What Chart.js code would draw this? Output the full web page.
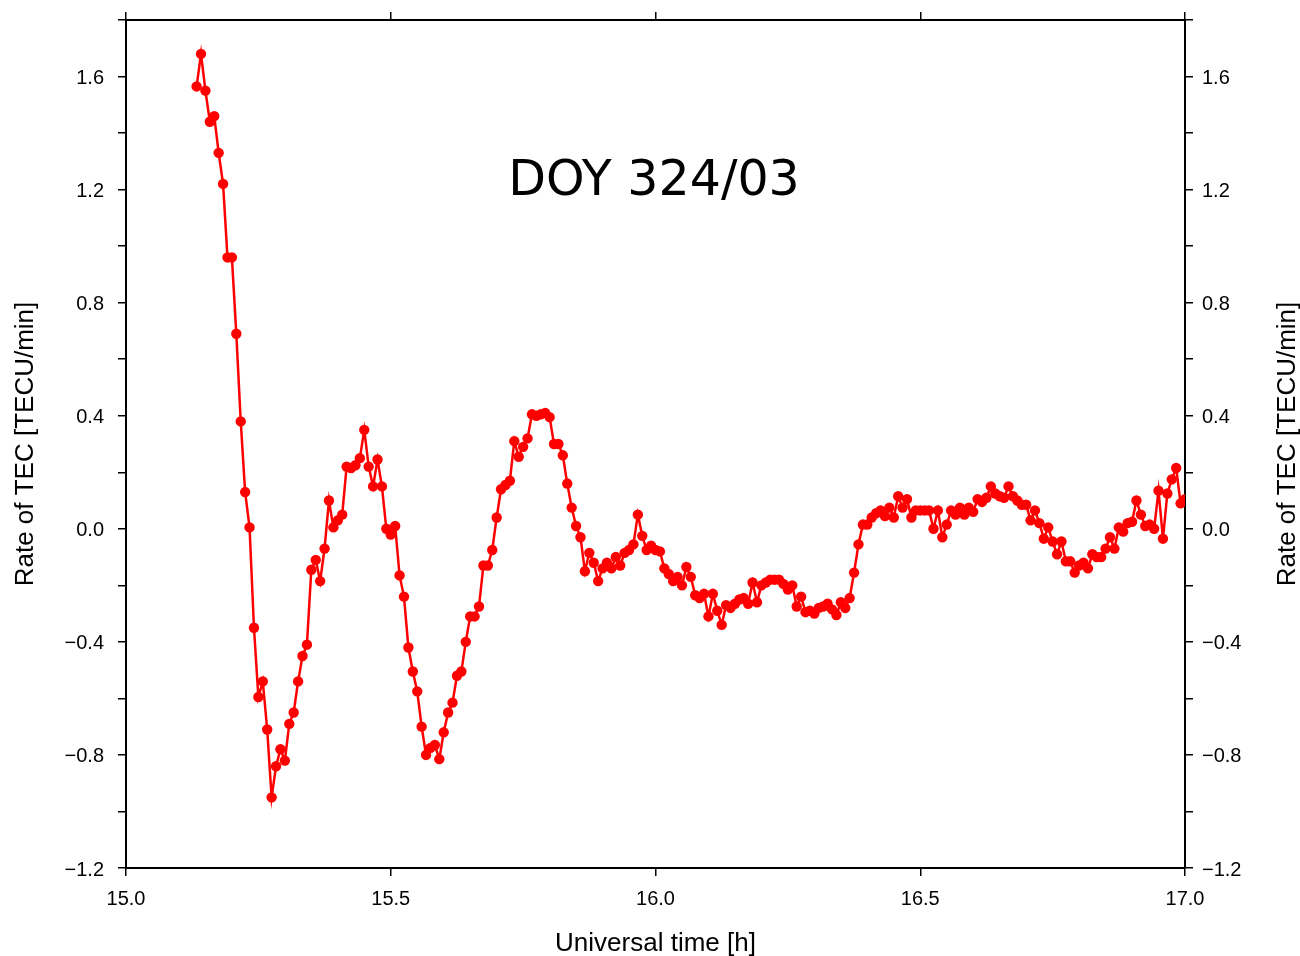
<!DOCTYPE html>
<html>
<head>
<meta charset="utf-8">
<script src="https://cdn.jsdelivr.net/npm/chart.js@4.4.1/dist/chart.umd.min.js"></script>
<style>
  html, body { margin: 0; padding: 0; background: #fff; }
  #wrap { width: 1300px; height: 956px; position: relative; }
</style>
</head>
<body>
<div id="wrap"><canvas id="chart" width="1300" height="956"></canvas></div>
<script>
// sampling: 30 s cadence starting 15:08 UT
const startHour = 15 + 8 / 60;
const stepHour = 30 / 3600;

// rate of TEC [TECU/min]
const rot = [
    1.565, 1.68, 1.55, 1.44, 1.46, 1.33, 1.22, 0.96, 0.96, 0.69,
    0.38, 0.13, 0.005, -0.35, -0.595, -0.54, -0.71, -0.95, -0.84, -0.78,
    -0.82, -0.69, -0.65, -0.54, -0.45, -0.41, -0.145, -0.11, -0.185, -0.07,
    0.10, 0.005, 0.03, 0.05, 0.22, 0.215, 0.225, 0.25, 0.35, 0.22,
    0.15, 0.245, 0.15, 0.0, -0.02, 0.01, -0.165, -0.24, -0.42, -0.505,
    -0.575, -0.70, -0.80, -0.775, -0.765, -0.815, -0.72, -0.65, -0.615, -0.52,
    -0.505, -0.40, -0.31, -0.31, -0.275, -0.13, -0.13, -0.075, 0.04, 0.14,
    0.155, 0.17, 0.31, 0.255, 0.29, 0.32, 0.405, 0.40, 0.405, 0.41,
    0.395, 0.30, 0.30, 0.26, 0.16, 0.075, 0.01, -0.03, -0.15, -0.085,
    -0.12, -0.185, -0.14, -0.12, -0.14, -0.10, -0.13, -0.085, -0.075, -0.055,
    0.05, -0.025, -0.075, -0.06, -0.075, -0.08, -0.14, -0.16, -0.185, -0.17,
    -0.20, -0.135, -0.17, -0.235, -0.245, -0.23, -0.31, -0.23, -0.29, -0.34,
    -0.27, -0.28, -0.265, -0.25, -0.245, -0.265, -0.19, -0.26, -0.20, -0.19,
    -0.18, -0.18, -0.18, -0.195, -0.215, -0.20, -0.275, -0.24, -0.295, -0.29,
    -0.30, -0.28, -0.275, -0.265, -0.285, -0.305, -0.26, -0.28, -0.245, -0.155,
    -0.055, 0.015, 0.015, 0.04, 0.055, 0.065, 0.045, 0.075, 0.04, 0.115,
    0.075, 0.105, 0.04, 0.065, 0.065, 0.065, 0.065, 0.0, 0.065, -0.03,
    0.015, 0.065, 0.05, 0.075, 0.05, 0.075, 0.06, 0.105, 0.095, 0.11,
    0.15, 0.125, 0.115, 0.11, 0.15, 0.115, 0.10, 0.085, 0.085, 0.03,
    0.065, 0.02, -0.035, 0.005, -0.045, -0.09, -0.045, -0.115, -0.115, -0.155,
    -0.13, -0.12, -0.14, -0.09, -0.10, -0.10, -0.07, -0.03, -0.07, 0.005,
    -0.01, 0.02, 0.025, 0.10, 0.05, 0.01, 0.015, 0.0, 0.135, -0.035,
    0.125, 0.175, 0.215, 0.09, 0.105, 0.11
];

const xMin = 15.0, xMax = 17.0, xStep = 0.5;
const yMin = -1.2, yMax = 1.8, yStep = 0.2, yLabelStep = 0.4;
const titleText = 'DOY 324/03';
const xTitle = 'Universal time [h]';
const yTitle = 'Rate of TEC [TECU/min]';

const points = rot.map((v, i) => ({ x: startHour + i * stepHour, y: v }));

function fmt(v) {
    return v.toFixed(1).replace('-', '\u2212');
}
function yLabel(v) {
    const k = v / yLabelStep;
    if (Math.abs(k - Math.round(k)) > 1e-6) return '';
    if (v > 1.7) return '';
    return fmt(Math.abs(v) < 1e-9 ? 0 : v);
}
function noPad(s) {
    s.paddingTop = 0; s.paddingBottom = 0; s.paddingLeft = 0; s.paddingRight = 0;
}

const tickFont = { family: 'Liberation Sans', size: 20 };
const axisFont = { family: 'Liberation Sans', size: 26 };
const gridOpts = { drawOnChartArea: false, drawTicks: true, tickLength: 8, color: '#000', lineWidth: 1.5 };
const borderOpts = { display: true, color: '#000', width: 2 };

const textPlugin = {
    id: 'extraText',
    afterDraw(chart) {
        const ctx = chart.ctx;
        const area = chart.chartArea;
        ctx.save();
        ctx.fillStyle = '#000';
        ctx.font = '49px "DejaVu Sans"';
        ctx.textAlign = 'center';
        ctx.textBaseline = 'alphabetic';
        ctx.fillText(titleText, 654, 195);
        // right-hand axis title, reading bottom to top like the left one
        ctx.font = '26px "Liberation Sans"';
        ctx.textBaseline = 'middle';
        ctx.translate(1288, (area.top + area.bottom) / 2);
        ctx.rotate(-Math.PI / 2);
        ctx.fillText(yTitle, 0, 0);
        ctx.restore();
    }
};

const ctx = document.getElementById('chart').getContext('2d');
new Chart(ctx, {
    type: 'line',
    data: {
        datasets: [{
            data: points,
            borderColor: '#ff0000',
            backgroundColor: '#ff0000',
            borderWidth: 2.5,
            pointRadius: 5.2,
            pointBorderWidth: 0,
            pointBackgroundColor: '#ff0000',
            tension: 0,
            fill: false
        }]
    },
    options: {
        responsive: false,
        animation: false,
        layout: { padding: 0 },
        plugins: {
            legend: { display: false },
            tooltip: { enabled: false }
        },
        scales: {
            x: {
                type: 'linear',
                position: 'bottom',
                min: xMin, max: xMax,
                ticks: { stepSize: xStep, callback: v => fmt(v), font: tickFont, color: '#000', padding: 11, maxRotation: 0 },
                grid: gridOpts,
                border: borderOpts,
                title: { display: true, text: xTitle, font: axisFont, color: '#000', padding: { top: 0, bottom: -3 } },
                afterFit: s => { s.height = 88; noPad(s); }
            },
            x2: {
                type: 'linear',
                position: 'top',
                min: xMin, max: xMax,
                ticks: { stepSize: xStep, callback: v => fmt(v), font: tickFont, color: 'rgba(0,0,0,0)' },
                grid: gridOpts,
                border: borderOpts,
                afterFit: s => { s.height = 20; noPad(s); }
            },
            y: {
                type: 'linear',
                position: 'left',
                min: yMin, max: yMax,
                ticks: { stepSize: yStep, callback: v => yLabel(v), font: tickFont, color: '#000', padding: 14, labelOffset: 2, autoSkip: false },
                grid: gridOpts,
                border: borderOpts,
                title: { display: true, text: yTitle, font: axisFont, color: '#000', padding: { top: 10, bottom: 0 } },
                afterFit: s => { s.width = 126; noPad(s); }
            },
            y2: {
                type: 'linear',
                position: 'right',
                min: yMin, max: yMax,
                ticks: { stepSize: yStep, callback: v => yLabel(v), font: tickFont, color: '#000', padding: 9, labelOffset: 2, autoSkip: false },
                grid: gridOpts,
                border: borderOpts,
                afterFit: s => { s.width = 115; noPad(s); }
            }
        }
    },
    plugins: [textPlugin]
});
</script>
</body>
</html>
